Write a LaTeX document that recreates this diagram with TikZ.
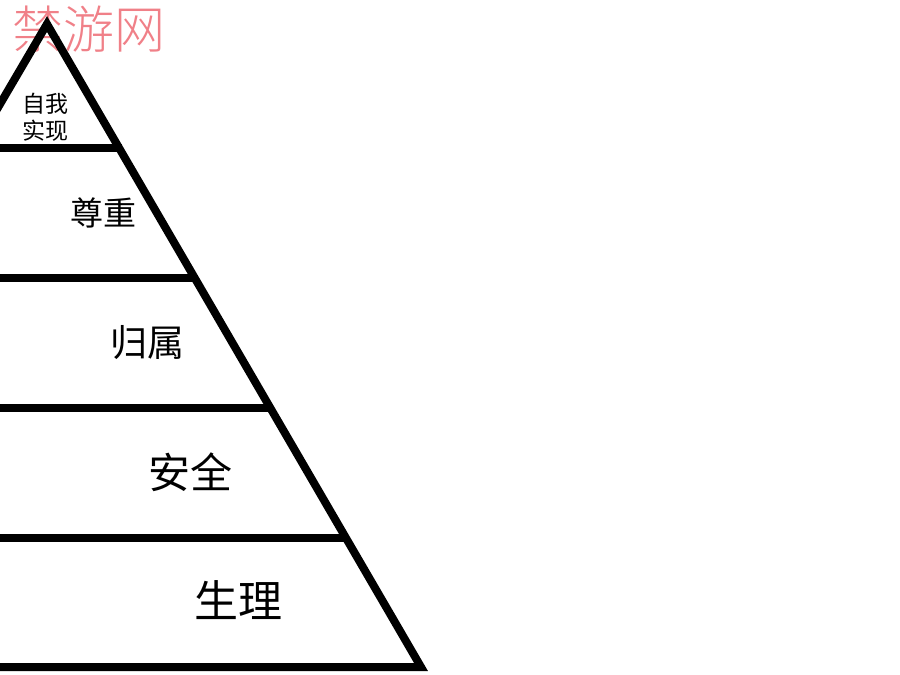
\documentclass[tikz,border=0pt]{standalone}
\usepackage{fontspec}
\newfontfamily\cjk{Noto Sans CJK SC}
\newfontfamily\cjkl{Noto Sans CJK SC Light}
\begin{document}
\begin{tikzpicture}[x=1pt,y=-1pt,
  edge/.style={line width=8pt,black},
  lbl/.style={font=\cjk,inner sep=0pt,text=black}]
\useasboundingbox (0,0) rectangle (900,675);
\clip (0,0) rectangle (900,675);
\node[font=\cjkl\fontsize{51}{51}\selectfont,text={rgb,255:red,240;green,128;blue,136},inner sep=0pt] (wm) at (89,29) {禁游网};
\coordinate (apex) at (47,24);
\coordinate (bl) at (-330,667);
\coordinate (br) at (421,667);
\coordinate (l1) at (0,148);
\coordinate (r1) at (122,148);
\coordinate (l2) at (0,278);
\coordinate (r2) at (197,278);
\coordinate (l3) at (0,408);
\coordinate (r3) at (271,408);
\coordinate (l4) at (0,538);
\coordinate (r4) at (346,538);
\draw[edge,line join=miter] (bl) -- (apex) -- (br) -- cycle;
\draw[edge] (l1) -- (r1);
\draw[edge] (l2) -- (r2);
\draw[edge] (l3) -- (r3);
\draw[edge] (l4) -- (r4);
\node[lbl,font=\cjk\fontsize{23}{27}\selectfont,align=center] (t1) at (45,117) {自我\\实现};
\node[lbl,font=\cjk\fontsize{33}{33}\selectfont] (t2) at (103,213) {尊重};
\node[lbl,font=\cjk\fontsize{37}{37}\selectfont] (t3) at (147,343) {归属};
\node[lbl,font=\cjk\fontsize{42}{42}\selectfont] (t4) at (190,472) {安全};
\node[lbl,font=\cjk\fontsize{44}{44}\selectfont] (t5) at (238,600) {生理};
\end{tikzpicture}
\end{document}
